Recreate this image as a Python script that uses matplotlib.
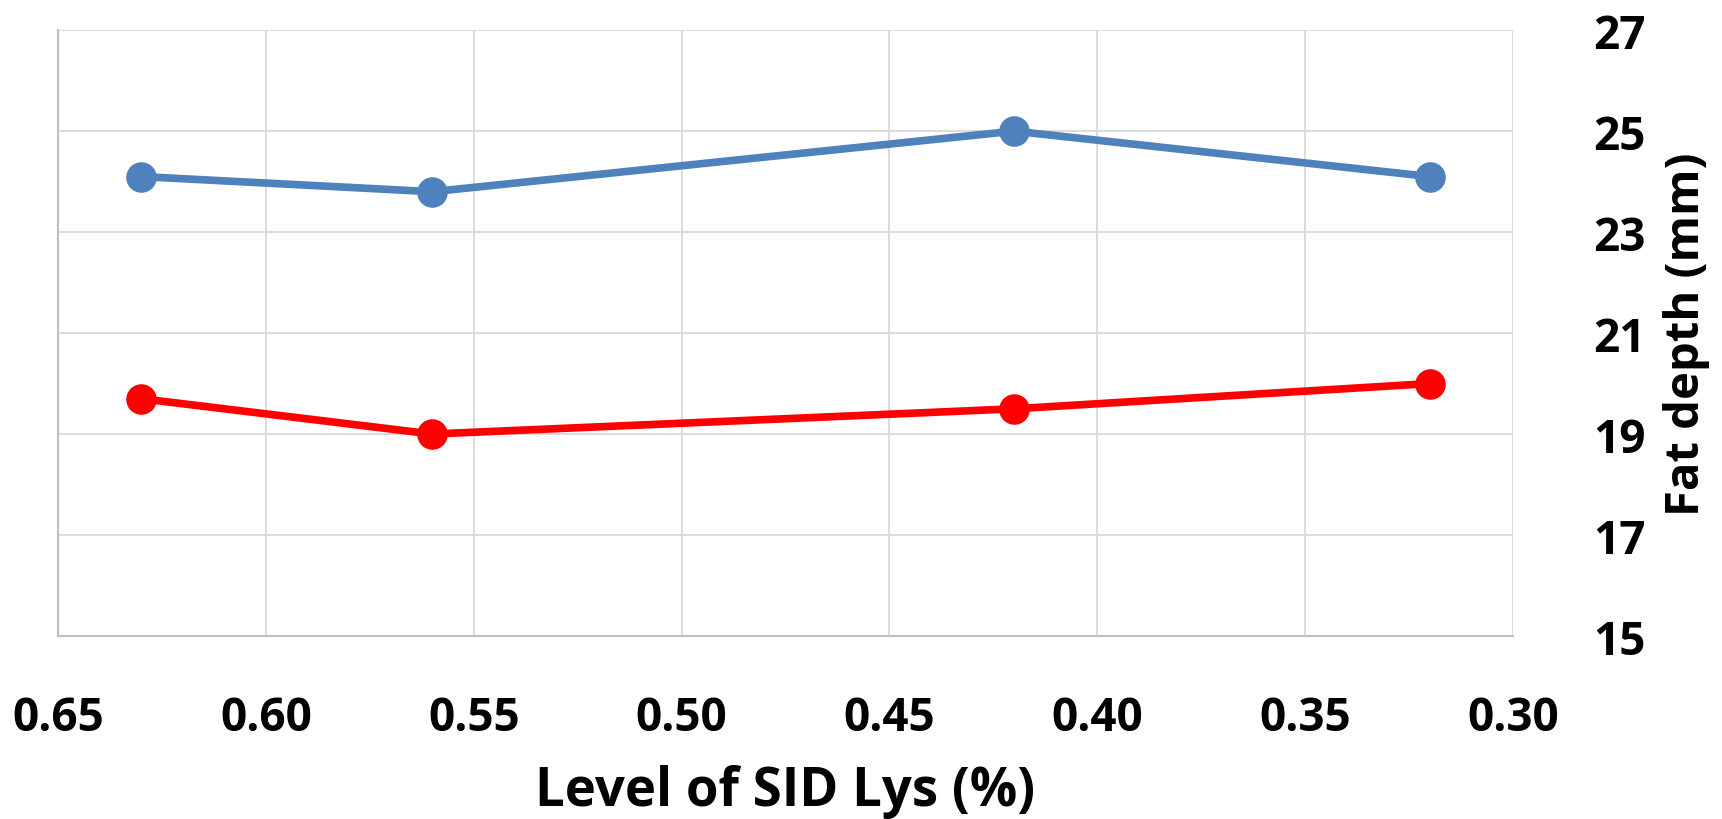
import matplotlib
matplotlib.use('Agg')
from matplotlib import pyplot as plt
import numpy as np

# SID Lys level (%) and fat depth (mm)
lys_level = [0.63, 0.56, 0.42, 0.32]
fat_blue = [24.1, 23.8, 25.0, 24.1]
fat_red = [19.7, 19.0, 19.5, 20.0]
x_ticks = [0.65, 0.60, 0.55, 0.50, 0.45, 0.40, 0.35, 0.30]
y_ticks = [15, 17, 19, 21, 23, 25, 27]

plt.rcParams['font.family'] = ['Open Sans', 'DejaVu Sans']

fig = plt.figure(figsize=(17.22, 8.20), dpi=100)
ax = fig.add_axes([0.0337, 0.2232, 0.8449, 0.7388])

ax.plot(lys_level, fat_blue, color='#4f81bd', lw=5.5, marker='o', ms=21, zorder=3)
ax.plot(lys_level, fat_red, color='#ff0000', lw=5.5, marker='o', ms=21, zorder=3)

ax.set_xlim(0.65, 0.30)
ax.set_ylim(15, 27)
ax.set_xticks(x_ticks)
ax.set_xticklabels([f'{v:.2f}' for v in x_ticks])
ax.set_yticks(y_ticks)
ax.yaxis.tick_right()
ax.yaxis.set_label_position('right')

ax.grid(True, color='#d9d9d9', lw=1.3)
ax.set_axisbelow(True)
for s in ['top', 'right']:
    ax.spines[s].set_visible(False)
for s in ['left', 'bottom']:
    ax.spines[s].set_color('#bfbfbf')
    ax.spines[s].set_linewidth(1.5)

ax.tick_params(axis='x', length=0, pad=42, labelsize=33)
ax.tick_params(axis='y', length=0, pad=58, labelsize=33)
for lab in ax.get_xticklabels() + ax.get_yticklabels():
    lab.set_fontweight('bold')

ax.set_xlabel('Level of SID Lys (%)', fontsize=38, fontweight='bold', labelpad=16)
ax.set_ylabel('Fat depth (mm)', fontsize=34, fontweight='bold', labelpad=12)

fig.savefig('out.png', dpi=100)
plt.close()
